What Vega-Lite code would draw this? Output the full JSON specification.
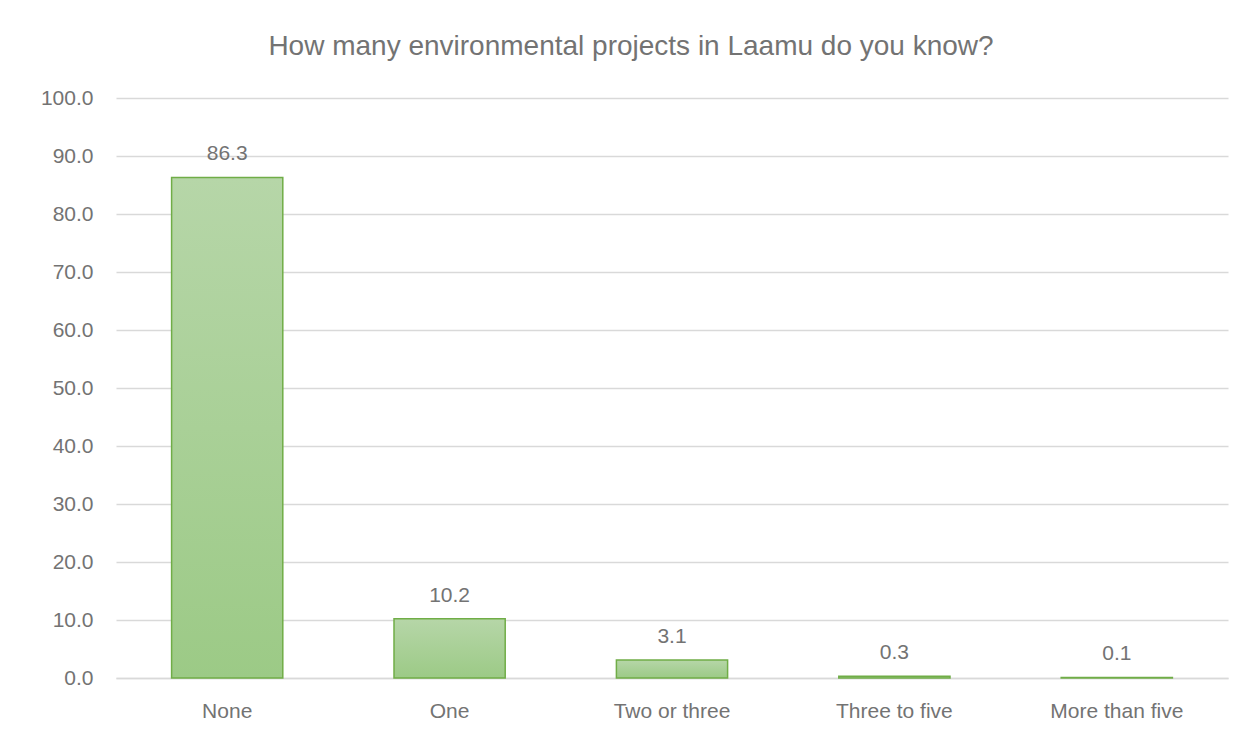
{
  "$schema": "https://vega.github.io/schema/vega-lite/v6.json",
  "autosize": {"type": "none"},
  "width": 1112,
  "height": 580,
  "padding": {"left": 116, "top": 98, "right": 25, "bottom": 54},
  "background": "white",
  "title": {
    "text": "How many environmental projects in Laamu do you know?",
    "font": "Liberation Sans",
    "fontSize": 28,
    "fontWeight": "normal",
    "color": "#737373",
    "anchor": "middle",
    "frame": "group",
    "baseline": "alphabetic",
    "offset": 4,
    "dx": -41
  },
  "data": {
    "values": [
      {"category": "None", "value": 86.3},
      {"category": "One", "value": 10.2},
      {"category": "Two or three", "value": 3.1},
      {"category": "Three to five", "value": 0.3},
      {"category": "More than five", "value": 0.1}
    ]
  },
  "encoding": {
    "x": {
      "field": "category",
      "type": "nominal",
      "sort": null,
      "title": null,
      "scale": {"paddingInner": 0.5, "paddingOuter": 0.25},
      "axis": {
        "labelAngle": 0,
        "labelFont": "Liberation Sans",
        "labelFontSize": 21,
        "labelColor": "#737373",
        "labelPadding": 22,
        "ticks": false,
        "tickSize": 0,
        "domain": true,
        "domainColor": "#d9d9d9",
        "domainWidth": 1.5,
        "grid": false
      }
    },
    "y": {
      "field": "value",
      "type": "quantitative",
      "title": null,
      "scale": {"domain": [0, 100], "nice": false},
      "axis": {
        "values": [0, 10, 20, 30, 40, 50, 60, 70, 80, 90, 100],
        "format": ".1f",
        "labelFont": "Liberation Sans",
        "labelFontSize": 21,
        "labelColor": "#737373",
        "labelPadding": 23,
        "ticks": false,
        "tickSize": 0,
        "domain": false,
        "grid": true,
        "gridColor": "#d9d9d9",
        "gridWidth": 1.5
      }
    }
  },
  "layer": [
    {
      "mark": {
        "type": "bar",
        "stroke": "#70ad47",
        "strokeWidth": 1.5,
        "fill": {
          "gradient": "linear",
          "x1": 0, "y1": 0, "x2": 0, "y2": 1,
          "stops": [
            {"offset": 0, "color": "#b6d6a8"},
            {"offset": 1, "color": "#9cca86"}
          ]
        }
      }
    },
    {
      "mark": {
        "type": "text",
        "font": "Liberation Sans",
        "fontSize": 21,
        "color": "#737373",
        "baseline": "alphabetic",
        "align": "center",
        "dy": -17
      },
      "encoding": {
        "text": {"field": "value", "type": "quantitative", "format": ".1f"}
      }
    }
  ],
  "config": {
    "view": {"stroke": null}
  }
}
